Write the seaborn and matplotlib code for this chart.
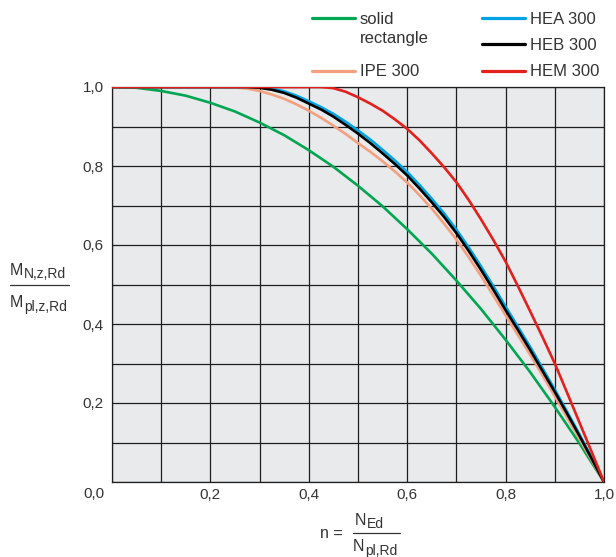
import numpy as np
import pandas as pd
import matplotlib
matplotlib.use("Agg")
import matplotlib.pyplot as plt
from matplotlib.lines import Line2D
import seaborn as sns

# ---------------- data ----------------
n_values = [0.000, 0.025, 0.050, 0.075, 0.100, 0.125, 0.150, 0.175, 0.200, 0.225,
            0.250, 0.275, 0.300, 0.325, 0.350, 0.375, 0.400, 0.425, 0.450, 0.475,
            0.500, 0.525, 0.550, 0.575, 0.600, 0.625, 0.650, 0.675, 0.700, 0.725,
            0.750, 0.775, 0.800, 0.825, 0.850, 0.875, 0.900, 0.925, 0.950, 0.975, 1.000]
solid_rectangle = [1.000, 0.999, 0.998, 0.994, 0.990, 0.984, 0.978, 0.969, 0.960, 0.949,
                   0.938, 0.924, 0.910, 0.894, 0.878, 0.859, 0.840, 0.819, 0.798, 0.774,
                   0.750, 0.724, 0.698, 0.669, 0.640, 0.609, 0.578, 0.544, 0.510, 0.474,
                   0.438, 0.399, 0.360, 0.319, 0.278, 0.234, 0.190, 0.144, 0.098, 0.049, 0.000]
ipe_300 = [1.000, 1.000, 1.000, 1.000, 1.000, 1.000, 1.000, 1.000, 1.000, 1.000,
           0.999, 0.996, 0.990, 0.981, 0.970, 0.956, 0.940, 0.922, 0.902, 0.881,
           0.858, 0.836, 0.812, 0.786, 0.758, 0.726, 0.692, 0.654, 0.614, 0.569,
           0.522, 0.472, 0.422, 0.372, 0.322, 0.270, 0.217, 0.163, 0.109, 0.055, 0.000]
hea_300 = [1.000, 1.000, 1.000, 1.000, 1.000, 1.000, 1.000, 1.000, 1.000, 1.000,
           1.000, 1.000, 0.999, 0.996, 0.989, 0.978, 0.964, 0.949, 0.932, 0.912,
           0.890, 0.867, 0.841, 0.814, 0.785, 0.752, 0.717, 0.680, 0.639, 0.594,
           0.546, 0.496, 0.444, 0.393, 0.342, 0.288, 0.234, 0.178, 0.121, 0.061, 0.000]
heb_300 = [1.000, 1.000, 1.000, 1.000, 1.000, 1.000, 1.000, 1.000, 1.000, 1.000,
           1.000, 1.000, 0.998, 0.993, 0.985, 0.973, 0.958, 0.943, 0.925, 0.904,
           0.882, 0.858, 0.832, 0.805, 0.776, 0.743, 0.708, 0.671, 0.630, 0.585,
           0.537, 0.487, 0.435, 0.385, 0.334, 0.281, 0.228, 0.173, 0.117, 0.059, 0.000]
hem_300 = [1.000, 1.000, 1.000, 1.000, 1.000, 1.000, 1.000, 1.000, 1.000, 1.000,
           1.000, 1.000, 1.000, 1.000, 1.000, 1.000, 1.000, 1.000, 0.997, 0.988,
           0.974, 0.958, 0.940, 0.918, 0.894, 0.865, 0.832, 0.797, 0.759, 0.714,
           0.665, 0.613, 0.558, 0.496, 0.432, 0.367, 0.300, 0.226, 0.151, 0.076, 0.000]

series_names = ["solid rectangle", "IPE 300", "HEA 300", "HEB 300", "HEM 300"]
series_values = [solid_rectangle, ipe_300, hea_300, heb_300, hem_300]
series_colors = ["#00a651", "#f4a07f", "#00a3e3", "#000000", "#e3201b"]
legend_labels = ["solid\nrectangle", "IPE 300", "HEA 300", "HEB 300", "HEM 300"]

tick_values = [0.0, 0.2, 0.4, 0.6, 0.8, 1.0]
tick_labels = ["0,0", "0,2", "0,4", "0,6", "0,8", "1,0"]
grid_values = [0.0, 0.1, 0.2, 0.3, 0.4, 0.5, 0.6, 0.7, 0.8, 0.9, 1.0]

# ---------------- styling ----------------
sns.set_theme(style="white")
plt.rcParams["font.family"] = ["Liberation Sans", "DejaVu Sans"]

W, H = 616, 557
fig = plt.figure(figsize=(W / 100, H / 100), dpi=100)
ax_l, ax_r, ax_t, ax_b = 112, 604, 87, 482
ax = fig.add_axes([ax_l / W, 1 - ax_b / H, (ax_r - ax_l) / W, (ax_b - ax_t) / H])
ax.set_facecolor("#e9eaec")

df = pd.concat([pd.DataFrame({"n": n_values, "M": vals, "series": name})
                for name, vals in zip(series_names, series_values)], ignore_index=True)
palette = dict(zip(series_names, series_colors))
sns.lineplot(data=df, x="n", y="M", hue="series", hue_order=series_names,
             palette=palette, linewidth=1.9, legend=False, ax=ax, zorder=3)

ax.set_xlim(0, 1)
ax.set_ylim(0, 1)
ax.set_xticks(tick_values[1:])
ax.set_xticklabels(tick_labels[1:])
ax.set_yticks(tick_values[1:])
ax.set_yticklabels(tick_labels[1:])
ax.set_xticks(grid_values, minor=True)
ax.set_yticks(grid_values, minor=True)
ax.grid(True, which="both", color="#1e1e1e", linewidth=0.9)
ax.set_axisbelow(True)
ax.tick_params(which="both", length=0)
ax.tick_params(axis="x", pad=4, labelsize=11, labelcolor="#333333")
ax.tick_params(axis="y", pad=6, labelsize=11, labelcolor="#333333")
for sp in ax.spines.values():
    sp.set_color("#1e1e1e")
    sp.set_linewidth(0.9)
ax.set_xlabel("")
ax.set_ylabel("")

# corner "0,0" label
ax.annotate(tick_labels[0], xy=(0, 0), xycoords="axes fraction",
            xytext=(-7, -12), textcoords="offset pixels", ha="right", va="center",
            fontsize=11, color="#333333")

# ---------------- axis labels as fractions ----------------
def fy(py):
    return 1 - py / H

def fx(px):
    return px / W

txt = "#333333"
big, small = 11.5, 10


def sub_label(x, y_base, main, sub):
    """Draw main letter with subscript; baselines in pixels."""
    t1 = fig.text(fx(x), fy(y_base), main, fontsize=big, color=txt, va="baseline", ha="left")
    fig.canvas.draw()
    bb = t1.get_window_extent()
    fig.text((bb.x1 + 0.5) / W, fy(y_base + 3.5), sub, fontsize=small, color=txt,
             va="baseline", ha="left")


# y-axis label
sub_label(10, 275, "M", "N,z,Rd")
fig.add_artist(Line2D([fx(10), fx(69)], [fy(284.5), fy(284.5)], transform=fig.transFigure,
                      color=txt, linewidth=0.9))
sub_label(10, 307, "M", "pl,z,Rd")

# x-axis label
fig.text(fx(320), fy(533.5), "n =", fontsize=big, color=txt, va="center", ha="left")
sub_label(355, 525, "N", "Ed")
fig.add_artist(Line2D([fx(353), fx(400)], [fy(533), fy(533)], transform=fig.transFigure,
                      color=txt, linewidth=0.9))
sub_label(353, 551, "N", "pl,Rd")

# ---------------- legend (manual, two columns) ----------------
legend_pos = [(312, 18), (312, 71), (482, 18), (482, 44), (482, 71)]
for (lx, ly), color, label in zip(legend_pos, series_colors, legend_labels):
    fig.add_artist(Line2D([fx(lx), fx(lx + 43)], [fy(ly), fy(ly)], transform=fig.transFigure,
                          color=color, linewidth=2.3))
    lines = label.split("\n")
    for i, line in enumerate(lines):
        fig.text(fx(lx + 48), fy(ly + 1 + i * 20), line, fontsize=12, color=txt,
                 va="center", ha="left")

fig.savefig("out.png", dpi=100)
